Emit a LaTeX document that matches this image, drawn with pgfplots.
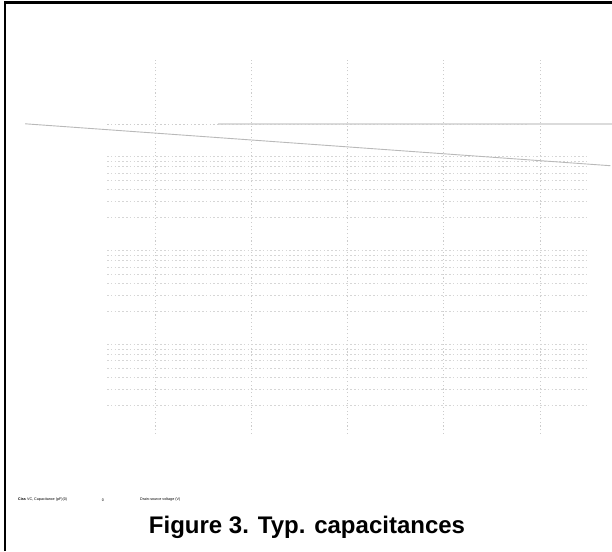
\documentclass[border=0pt]{standalone}
\usepackage{pgfplots}
\pgfplotsset{compat=1.18}
\usepackage{fontspec}
\setmainfont{Liberation Sans}
\begin{document}
\begin{tikzpicture}
\useasboundingbox (0pt,0pt) rectangle (612pt,551pt);
\draw[line width=2.4pt] (4.8pt,0pt) -- (4.8pt,548.3pt) -- (612pt,548.3pt);
\begin{axis}[at={(107pt,117pt)}, anchor=south west, scale only axis,
  width=482pt, height=374pt,
  xmin=5.01, xmax=55.09, ymode=log, ymin=1, ymax=9616,
  clip=false,
  axis line style={draw=none},
  major tick length=0pt, minor tick length=0pt,
  xtick={10,20,30,40,50}, xticklabels={},
  ytick={1,10,100,1000}, yticklabels={},
  minor ytick={2,3,4,5,6,7,8,9,20,30,40,50,60,70,80,90,200,300,400,500,600,700,800,900},
  xmajorgrids=true, ymajorgrids=false, yminorgrids=true,
  major grid style={gray!40, line width=0.8pt, dash pattern=on 1.1pt off 2.6pt},
  minor grid style={gray!32, line width=0.9pt, dash pattern=on 1.6pt off 2.2pt},
]
\addplot[gray!28, line width=1.8pt] coordinates {(16.5,2000) (57.5,2000)};
\addplot[gray!38, line width=0.9pt, dash pattern=on 1.6pt off 2.2pt] coordinates {(5.01,2000) (48.8,2000)};
\addplot[gray!55, line width=0.9pt] coordinates {(-3.5,2012) (57.3,720)};
\end{axis}
\node[anchor=west, font=\fontsize{3.7}{4}\selectfont, inner sep=0pt] at (18pt,51pt) {\textbf{Ciss} VC, Capacitance (pF)(0)};
\node[font=\fontsize{3.7}{4}\selectfont, inner sep=0pt] at (103pt,51pt) {0};
\node[anchor=west, font=\fontsize{3.7}{4}\selectfont, inner sep=0pt] at (140pt,51pt) {Drain-source voltage (V)};
\node[anchor=base, font=\bfseries\fontsize{24}{28}\selectfont, inner sep=0pt] at (307pt,18pt) {Figure 3. Typ. capacitances};
\end{tikzpicture}
\end{document}
